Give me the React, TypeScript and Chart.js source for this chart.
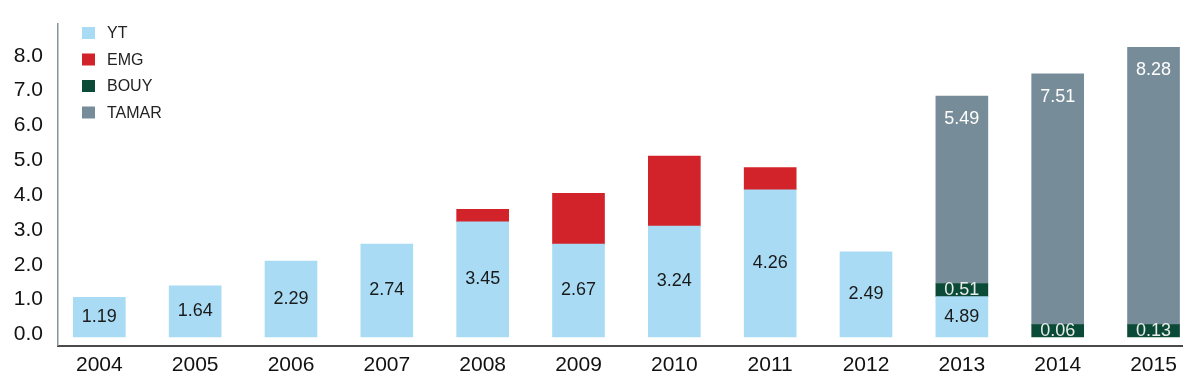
import React, { useEffect, useRef } from 'react';
import { Chart, registerables } from 'chart.js';

Chart.register(...registerables);

const years = [2004, 2005, 2006, 2007, 2008, 2009, 2010, 2011, 2012, 2013, 2014, 2015];
const ytValues = [1.15, 1.48, 2.19, 2.68, 3.32, 2.68, 3.2, 4.24, 2.46, 1.17, 0, 0];
const emgValues = [0, 0, 0, 0, 0.36, 1.46, 2.01, 0.64, 0, 0, 0, 0];
const bouyValues = [0, 0, 0, 0, 0, 0, 0, 0, 0, 0.38, 0.37, 0.37];
const tamarValues = [0, 0, 0, 0, 0, 0, 0, 0, 0, 5.38, 7.2, 7.96];

const ytLabels = ['1.19', '1.64', '2.29', '2.74', '3.45', '2.67', '3.24', '4.26', '2.49', '4.89', '', ''];
const emgLabels = ['', '', '', '', '', '', '', '', '', '', '', ''];
const bouyLabels = ['', '', '', '', '', '', '', '', '', '0.51', '0.06', '0.13'];
const tamarLabels = ['', '', '', '', '', '', '', '', '', '5.49', '7.51', '8.28'];

const yTicks = [0, 1, 2, 3, 4, 5, 6, 7, 8];

const FONT = '"Liberation Sans", Arial, Helvetica, sans-serif';

const seriesNames = ['YT', 'EMG', 'BOUY', 'TAMAR'];
const seriesColors = ['#a9dcf4', '#d2232a', '#0b4a37', '#778c99'];
const seriesValues = [ytValues, emgValues, bouyValues, tamarValues];
const seriesLabels = [ytLabels, emgLabels, bouyLabels, tamarLabels];
const labelColors = ['#1a1a1a', '#ffffff', '#e6ece8', '#ffffff'];

const valueLabelPlugin = {
  id: 'valueLabels',
  afterDatasetsDraw(chart: any) {
    const ctx = chart.ctx;
    ctx.save();
    ctx.font = `18px ${FONT}`;
    ctx.textAlign = 'center';
    ctx.textBaseline = 'middle';
    chart.data.datasets.forEach((ds: any, i: number) => {
      const meta = chart.getDatasetMeta(i);
      const labels = seriesLabels[i];
      meta.data.forEach((el: any, j: number) => {
        const txt = labels[j];
        if (!txt) return;
        const top = Math.min(el.y, el.base);
        const bottom = Math.max(el.y, el.base);
        const y = i === 3 ? top + 23 : (top + bottom) / 2;
        ctx.fillStyle = labelColors[i];
        ctx.fillText(txt, el.x, y);
      });
    });
    ctx.restore();
  },
};

const legendPlugin = {
  id: 'customLegend',
  afterDraw(chart: any) {
    const ctx = chart.ctx;
    const left = chart.chartArea.left + 24;
    ctx.save();
    ctx.font = `16px ${FONT}`;
    ctx.textAlign = 'left';
    ctx.textBaseline = 'middle';
    seriesNames.forEach((name, i) => {
      const cy = 25 + i * 26.5;
      ctx.fillStyle = seriesColors[i];
      ctx.fillRect(left, cy - 6, 13, 12);
      ctx.fillStyle = '#222222';
      ctx.fillText(name, left + 25, cy + 1);
    });
    ctx.restore();
  },
};

export default function App() {
  const canvasRef = useRef<HTMLCanvasElement | null>(null);

  useEffect(() => {
    if (!canvasRef.current) return;
    const chart = new Chart(canvasRef.current, {
      type: 'bar',
      data: {
        datasets: seriesNames.map((name, i) => ({
          label: name,
          data: seriesValues[i].map((v, j) => ({ x: years[j], y: v === 0 ? null : v })),
          backgroundColor: seriesColors[i],
          borderWidth: 0,
          barThickness: 52,
        })),
      },
      options: {
        animation: false,
        responsive: true,
        maintainAspectRatio: false,
        layout: { padding: { left: 0, right: 10, top: 16, bottom: 3 } },
        plugins: {
          legend: { display: false },
          tooltip: { enabled: false },
        },
        scales: {
          x: {
            type: 'linear',
            offset: false,
            min: 2003.569,
            max: 2015.297,
            stacked: true,
            grid: { display: false, drawTicks: false, offset: false },
            border: { display: true, color: '#4a4a4a', width: 2 },
            ticks: {
              padding: 7,
              color: '#111111',
              font: { family: FONT, size: 21 },
              callback: (v: any) => String(v),
            },
            afterBuildTicks: (s: any) => {
              s.ticks = years.map((v) => ({ value: v }));
            },
          },
          y: {
            min: -0.24,
            max: 9.0,
            stacked: true,
            grid: {
              display: true,
              drawOnChartArea: false,
              drawTicks: true,
              tickLength: 12,
              tickColor: 'rgba(0,0,0,0)',
            },
            border: { display: true, color: '#8595a0', width: 1.5 },
            ticks: {
              padding: 3,
              labelOffset: -3,
              color: '#111111',
              font: { family: FONT, size: 21 },
              callback: (v: any) => Number(v).toFixed(1),
            },
            afterBuildTicks: (s: any) => {
              s.ticks = yTicks.map((v) => ({ value: v }));
            },
            afterFit: (s: any) => {
              s.width = 50;
            },
          },
        },
      } as any,
      plugins: [valueLabelPlugin, legendPlugin],
    });
    return () => chart.destroy();
  }, []);

  return (
    <div style={{ position: 'relative', width: '100%', height: '380px' }}>
      <canvas ref={canvasRef} />
    </div>
  );
}
